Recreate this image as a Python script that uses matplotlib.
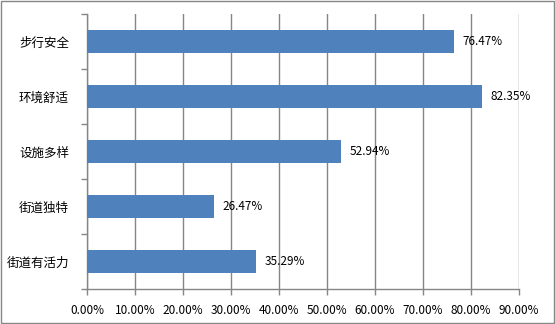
import matplotlib
matplotlib.use("Agg")
import matplotlib.pyplot as plt
from matplotlib.patches import Rectangle
import numpy as np

plt.rcParams['font.family'] = ['Noto Sans CJK SC', 'DejaVu Sans']

categories = ['步行安全', '环境舒适', '设施多样', '街道独特', '街道有活力']
values = [76.47, 82.35, 52.94, 26.47, 35.29]
xticks = [0, 10, 20, 30, 40, 50, 60, 70, 80, 90]
xtick_labels = ['%.2f%%' % v for v in xticks]

fig = plt.figure(figsize=(5.55, 3.24), dpi=100)
ax = fig.add_axes([87/555, 1-289/324, (519-87)/555, (289-14)/324])

n = len(categories)
y = np.arange(n)[::-1]
ax.barh(y, values, height=0.4, color='#4F81BD', zorder=3)
for yi, v in zip(y, values):
    ax.text(v + 1.7, yi, '%.2f%%' % v, va='center', ha='left', fontsize=8.5, color='#000000')

ax.set_xlim(0, 90)
ax.set_ylim(-0.5, n - 0.5)
ax.set_xticks(xticks)
ax.set_xticklabels(xtick_labels, fontsize=8.5)
ax.set_yticks(y)
ax.set_yticklabels(categories, fontsize=9)
ax.set_yticks(np.arange(-0.5, n, 1.0), minor=True)
ax.tick_params(axis='y', which='major', length=0, pad=13)
ax.tick_params(axis='y', which='minor', length=4, color='#868686', width=1)
ax.tick_params(axis='x', length=4, color='#868686', width=1, pad=7)
ax.grid(axis='x', color='#868686', linewidth=1, zorder=0)
for s in ['top', 'right']:
    ax.spines[s].set_visible(False)
for s in ['left', 'bottom']:
    ax.spines[s].set_color('#868686')
    ax.spines[s].set_linewidth(1)

fig.patches.append(Rectangle((1/555, 1/324), 553/555, 322/324, transform=fig.transFigure,
                             fill=False, edgecolor='#868686', linewidth=1))

fig.savefig('out.png', dpi=100)
